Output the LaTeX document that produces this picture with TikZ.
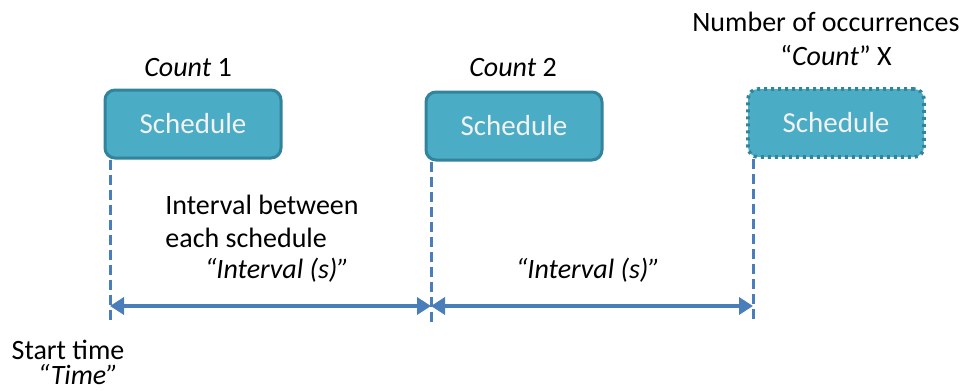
\documentclass[tikz,border=0pt]{standalone}
\usepackage{fontspec}
\setmainfont{Carlito}
\usepackage{tikz}
\usetikzlibrary{positioning,arrows.meta}
\definecolor{SchedFill}{HTML}{4BACC6}
\definecolor{SchedEdge}{HTML}{31849B}
\definecolor{LineBlue}{HTML}{4A7EBB}

\begin{document}
\begin{tikzpicture}[
x=0.5pt, y=-0.5pt,
sched/.style={draw=SchedEdge, line width=1.5pt, rounded corners=5pt, fill=SchedFill, text=white!95!black, minimum width=88pt, minimum height=34pt, font=\fontsize{14.5}{17}\selectfont},
txt/.style={font=\fontsize{14}{17}\selectfont, inner sep=0pt},
guide/.style={LineBlue, line width=1.5pt, dash pattern=on 5pt off 2.5pt},
span/.style={{Triangle[length=7pt,width=8.5pt]}-{Triangle[length=7pt,width=8.5pt]}, LineBlue, line width=1.8pt}
]
\useasboundingbox (0,0) rectangle (971,391);
\node[sched] (s1) at (193,124) {Schedule};
\node[sched] (s2) at (514,126) {Schedule};
\node[sched, dotted, line width=1.8pt] (s3) at (836,123) {Schedule};
\coordinate (g1) at (110,306);
\coordinate (g2) at (431,306);
\coordinate (g3) at (753,306);
\draw[guide] (s1.south -| g1) -- ([yshift=-8pt]g1);
\draw[guide] (s2.south -| g2) -- ([yshift=-8pt]g2);
\draw[guide] (s3.south -| g3) -- ([yshift=-8pt]g3);
\draw[span] (g1) -- (g2);
\draw[span] (g2) -- (g3);
% labels
\node[txt] (c1) at (188,68) {\textit{Count} 1};
\node[txt] (c2) at (513,68) {\textit{Count} 2};
\node[txt] (occ) at (826,22) {Number of occurrences};
\node[txt] (cx) at (836,56) {“\textit{Count}” X};
\node[txt, anchor=west] (ivb) at (165,205) {Interval between};
\node[txt, anchor=west] (eas) at (165,238) {each schedule};
\node[txt] (iv1) at (277,270) {\textit{“Interval (s)”}};
\node[txt] (iv2) at (588,270) {\textit{“Interval (s)”}};
\node[txt] (st) at (68,350) {Start time};
\node[txt] (tm) at (78,375) {\textit{“Time”}};
\end{tikzpicture}
\end{document}
